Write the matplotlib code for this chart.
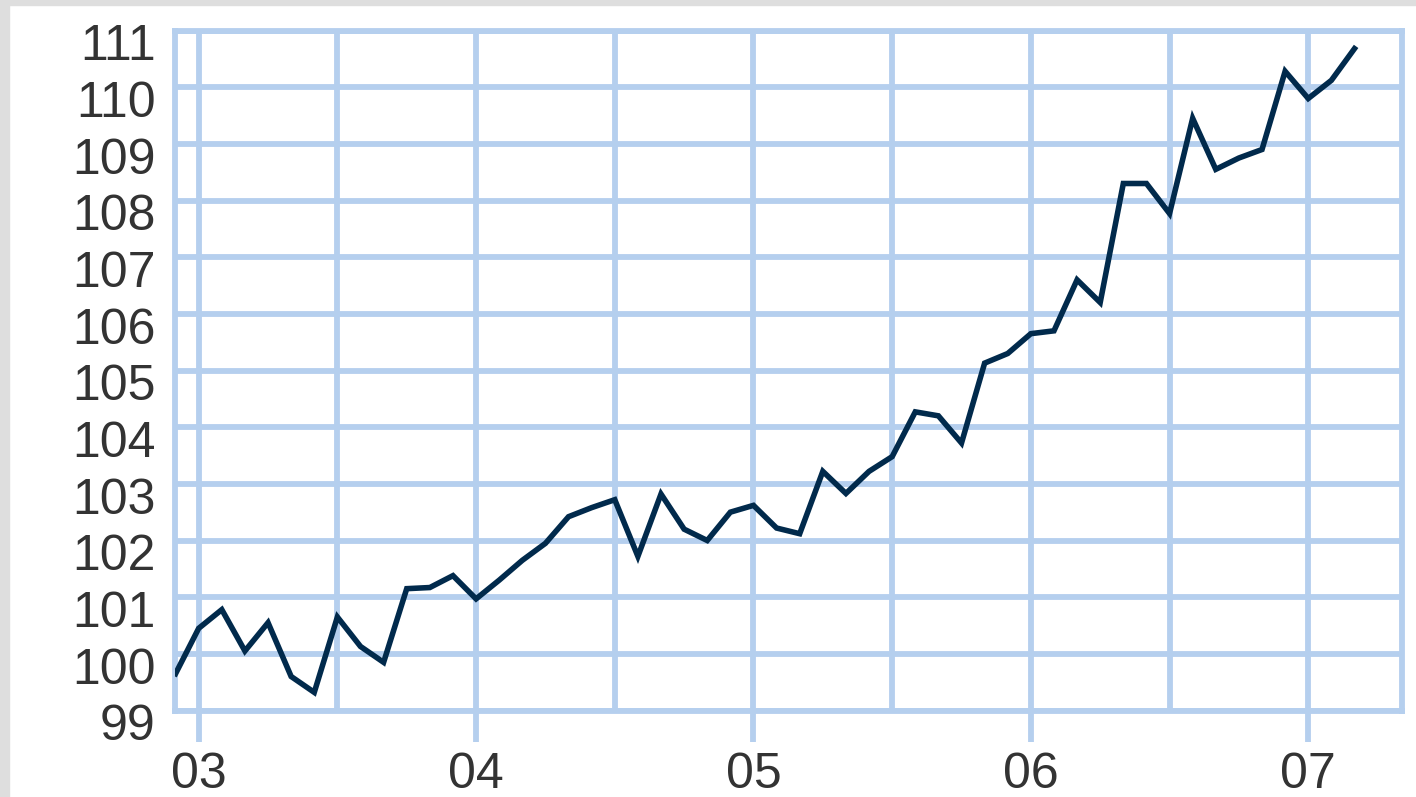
import numpy as np
import matplotlib
matplotlib.use("Agg")
import matplotlib.pyplot as plt
from matplotlib.patches import Rectangle
from matplotlib.transforms import ScaledTranslation

# monthly index, Dec 2002 .. Mar 2007
start_year = 2002
start_month = 12
values = [99.65,
          100.45, 100.78, 100.05, 100.55, 99.60, 99.32, 100.65, 100.13, 99.85, 101.15, 101.17, 101.38,
          100.97, 101.30, 101.65, 101.95, 102.42, 102.58, 102.72, 101.72, 102.82, 102.20, 102.00, 102.50,
          102.62, 102.22, 102.12, 103.22, 102.83, 103.22, 103.48, 104.27, 104.20, 103.72, 105.13, 105.30,
          105.65, 105.70, 106.60, 106.20, 108.30, 108.30, 107.77, 109.45, 108.55, 108.75, 108.90, 110.28,
          109.80, 110.12, 110.68]

year_ticks = [2003, 2004, 2005, 2006, 2007]
year_labels = ["03", "04", "05", "06", "07"]
half_ticks = [2003.5, 2004.5, 2005.5, 2006.5]
y_ticks = list(range(99, 112))

months = np.arange(len(values))
x = start_year + (start_month - 1 + months) / 12.0

line_col = "#012a4c"
grid_col = "#b5cfee"
text_col = "#333333"

fig = plt.figure(figsize=(14.16, 7.97), dpi=100)
fig.patch.set_facecolor("white")
# grey border strips top and left
fig.patches.append(Rectangle((0, 1 - 5 / 797), 1, 5 / 797, transform=fig.transFigure,
                             color="#dedede", zorder=0))
fig.patches.append(Rectangle((0, 0), 9 / 1416, 1, transform=fig.transFigure,
                             color="#dedede", zorder=0))

ax = fig.add_axes([175 / 1416, 1 - 710.5 / 797, (1402 - 175) / 1416, (710.5 - 30.5) / 797])
ax.plot(x, values, color=line_col, lw=4.0, zorder=3, solid_joinstyle="miter")

ax.set_xlim(2002.9146, 2007.338)
ax.set_ylim(99, 111)

ax.set_xticks(year_ticks)
ax.set_xticklabels(year_labels)
ax.set_xticks(half_ticks, minor=True)
ax.set_yticks(y_ticks)
ax.set_yticklabels([str(v) for v in y_ticks])

ax.grid(True, which="both", color=grid_col, lw=4.2)
ax.set_axisbelow(True)

ax.tick_params(axis="x", which="major", length=22, width=4.2, color=grid_col,
               labelsize=36, labelcolor=text_col, pad=8)
ax.tick_params(axis="x", which="minor", length=0)
ax.tick_params(axis="y", length=0, labelsize=36, labelcolor=text_col, pad=14)

for lab in ax.get_xticklabels() + ax.get_yticklabels():
    lab.set_family("Liberation Sans")
for lab in ax.get_yticklabels():
    lab.set_transform(lab.get_transform() + ScaledTranslation(0, -12 / 100, fig.dpi_scale_trans))

for s in ax.spines.values():
    s.set_color(grid_col)
    s.set_linewidth(4.2)

fig.savefig("out.png", dpi=100, facecolor="white")
